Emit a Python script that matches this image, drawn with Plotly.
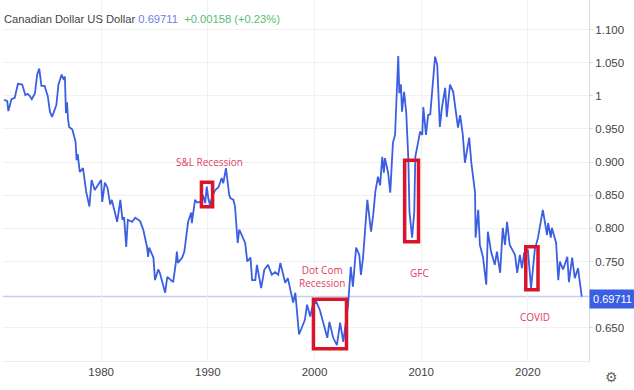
import plotly.graph_objects as go

years = [1970.9,1971.2,1971.3,1971.6,1971.9,1972.2,1972.6,1972.9,1973.1,1973.3,1973.5,1973.8,1974.0,1974.2,1974.4,1974.7,1975.0,1975.2,1975.4,1975.8,1976.0,1976.3,1976.5,1976.6,1976.7,1976.8,1976.9,1977.0,1977.3,1977.6,1977.7,1977.8,1978.0,1978.3,1978.6,1978.9,1979.1,1979.4,1980.0,1980.1,1980.35,1980.6,1980.85,1981.0,1981.5,1981.65,1981.8,1982.0,1982.15,1982.35,1982.5,1982.9,1983.2,1983.65,1983.95,1984.3,1984.4,1984.5,1984.9,1985.05,1985.35,1985.5,1985.8,1986.0,1986.2,1986.55,1986.75,1987.0,1987.1,1987.2,1987.6,1987.8,1988.15,1988.45,1988.5,1988.8,1989.0,1989.3,1989.55,1989.75,1989.9,1990.05,1990.2,1990.4,1990.7,1991.0,1991.3,1991.45,1991.7,1992.0,1992.1,1992.4,1992.55,1992.8,1992.95,1993.5,1993.7,1994.0,1994.15,1994.45,1994.6,1995.0,1995.3,1995.65,1996.0,1996.3,1996.6,1996.8,1997.05,1997.25,1997.5,1998.0,1998.2,1998.55,1998.85,1999.1,1999.3,1999.6,1999.8,2000.15,2000.5,2000.7,2001.0,2001.2,2001.4,2001.75,2002.1,2002.4,2002.7,2002.8,2003.15,2003.4,2003.6,2003.9,2004.2,2004.35,2004.55,2004.95,2005.3,2005.5,2005.7,2005.95,2006.15,2006.35,2006.5,2006.6,2006.9,2007.1,2007.35,2007.55,2007.85,2007.95,2008.1,2008.2,2008.4,2008.6,2008.7,2008.8,2008.9,2009.0,2009.15,2009.35,2009.45,2009.7,2009.9,2010.1,2010.2,2010.45,2010.65,2010.85,2011.0,2011.3,2011.5,2011.75,2011.95,2012.25,2012.4,2012.7,2013.0,2013.25,2013.45,2013.65,2013.9,2014.1,2014.5,2014.7,2014.85,2015.05,2015.1,2015.35,2015.5,2015.8,2016.1,2016.25,2016.55,2016.9,2017.1,2017.4,2017.65,2017.85,2018.05,2018.3,2018.8,2019.0,2019.25,2019.45,2019.65,2020.0,2020.3,2020.65,2020.95,2021.4,2021.8,2021.9,2022.15,2022.25,2022.65,2022.85,2023.0,2023.3,2023.7,2023.85,2024.15,2024.4,2024.7,2025.05]
rates = [.994,.992,.977,.995,.997,1.018,1.017,1.001,1.003,1.0,.995,1.004,1.032,1.041,1.015,1.015,.999,.976,.968,.986,1.017,1.032,1.024,1.029,.974,.99,.964,.953,.949,.931,.903,.912,.885,.891,.855,.833,.873,.858,.873,.84,.869,.861,.836,.843,.81,.831,.843,.813,.817,.772,.813,.81,.816,.811,.798,.772,.757,.771,.756,.722,.738,.733,.715,.703,.727,.722,.719,.748,.765,.748,.756,.765,.81,.824,.808,.843,.839,.84,.85,.838,.863,.845,.835,.848,.858,.862,.876,.868,.891,.851,.846,.843,.833,.778,.798,.778,.75,.756,.722,.722,.745,.71,.738,.745,.73,.734,.73,.748,.733,.718,.725,.688,.703,.64,.652,.662,.685,.667,.682,.69,.677,.665,.65,.635,.659,.635,.624,.658,.629,.64,.685,.742,.712,.771,.76,.73,.756,.843,.795,.82,.855,.878,.865,.908,.884,.906,.884,.854,.929,.941,1.06,1.004,1.017,.976,1.006,.974,.938,.903,.825,.805,.786,.825,.908,.929,.946,.941,.983,.941,.971,.972,1.0,1.059,1.047,.953,.983,1.012,.968,1.017,1.006,.971,.952,.971,.941,.899,.937,.899,.878,.854,.786,.828,.775,.756,.715,.795,.765,.745,.765,.733,.801,.775,.81,.775,.76,.733,.76,.74,.763,.768,.71,.768,.786,.828,.79,.808,.786,.801,.778,.722,.75,.738,.757,.719,.756,.725,.74,.697]

last_value = 0.69711
y_ticks = [0.65,0.75,0.8,0.85,0.9,0.95,1.0,1.05,1.1]
y_labels = ["0.650","0.750","0.800","0.850","0.900","0.950","1","1.050","1.100"]
x_ticks = [1980,1990,2000,2010,2020]
x_labels = ["1980","1990","2000","2010","2020"]

box_names = ["S&L","Dot Com","GFC","COVID"]
box_x0 = [1989.4,1999.9,2008.45,2019.8]
box_x1 = [1990.45,2003.0,2009.75,2020.95]
box_y0 = [.8326,.6184,.7798,.7074]
box_y1 = [.8695,.693,.9027,.7722]

notes = ["S&L Recession","Dot Com<br>Recession","GFC","COVID"]
note_x = [1990.2,2000.7,2009.8,2020.65]
note_y = [.9,.727,.733,.6665]

BLUE = "#3b5fe2"; RED = "#e0405f"; GRID = "#f0f0f3"; TXT = "#444444"

fig = go.Figure()
fig.add_trace(go.Scatter(x=years, y=rates, mode="lines",
    line=dict(color=BLUE, width=1.8), hoverinfo="skip", showlegend=False))

fig.add_hline(y=last_value, line=dict(color="#c3cdf8", width=1.5), layer="below")
for x0, x1, y0, y1 in zip(box_x0, box_x1, box_y0, box_y1):
    fig.add_shape(type="rect", x0=x0, x1=x1, y0=y0, y1=y1,
                  line=dict(color="#d9142b", width=3.5))
for t, x, y in zip(notes, note_x, note_y):
    fig.add_annotation(x=x, y=y, text=t, showarrow=False, align="center",
                       font=dict(family="Open Sans", size=10, color=RED))

fig.add_annotation(x=1, xref="paper", xanchor="left", y=last_value, yanchor="middle", yshift=-2,
    text="0.69711", showarrow=False, bgcolor=BLUE, borderpad=2, width=41, height=14,
    font=dict(family="Liberation Sans", size=11, color="white"))

fig.add_annotation(xref="paper", yref="paper", x=0, y=1, xanchor="left", yanchor="top", yshift=-11, xshift=-1,
    showarrow=False, align="left",
    text=f'<span style="color:#444444">Canadian Dollar US Dollar </span>'
         f'<span style="color:#6a7fe0">{last_value:.5f}</span>'
         f'<span style="color:#55c070">  +0.00158 (+0.23%)</span>',
    font=dict(family="Liberation Sans", size=11.2))

fig.add_annotation(xref="paper", yref="paper", x=1, y=0, xanchor="left", yanchor="top",
    xshift=14, yshift=-6, text="⚙", showarrow=False,
    font=dict(family="DejaVu Sans", size=14, color="#666666"))

fig.update_layout(
    width=634, height=390, paper_bgcolor="white", plot_bgcolor="white",
    margin=dict(l=3, r=45, t=0, b=29, pad=0), showlegend=False,
    xaxis=dict(range=[1970.8,2025.73], tickvals=x_ticks, ticktext=x_labels,
               showgrid=True, gridcolor=GRID, gridwidth=1, zeroline=False,
               showline=True, linecolor="#ececf0", ticks="", ticklen=0,
               tickfont=dict(family="Liberation Sans", size=11.5, color=TXT)),
    yaxis=dict(range=[0.6,1.1445], side="right", tickvals=y_ticks, ticktext=y_labels,
               showgrid=True, gridcolor=GRID, gridwidth=1, zeroline=False,
               showline=True, linecolor="#dcdce0", ticks="outside", ticklen=3, tickcolor="#dcdce0",
               tickfont=dict(family="Liberation Sans", size=11.5, color=TXT)),
)
fig.write_html("out.html", config=dict(displayModeBar=False),
               post_script="document.body.style.margin='0';document.documentElement.style.overflow='hidden';")
